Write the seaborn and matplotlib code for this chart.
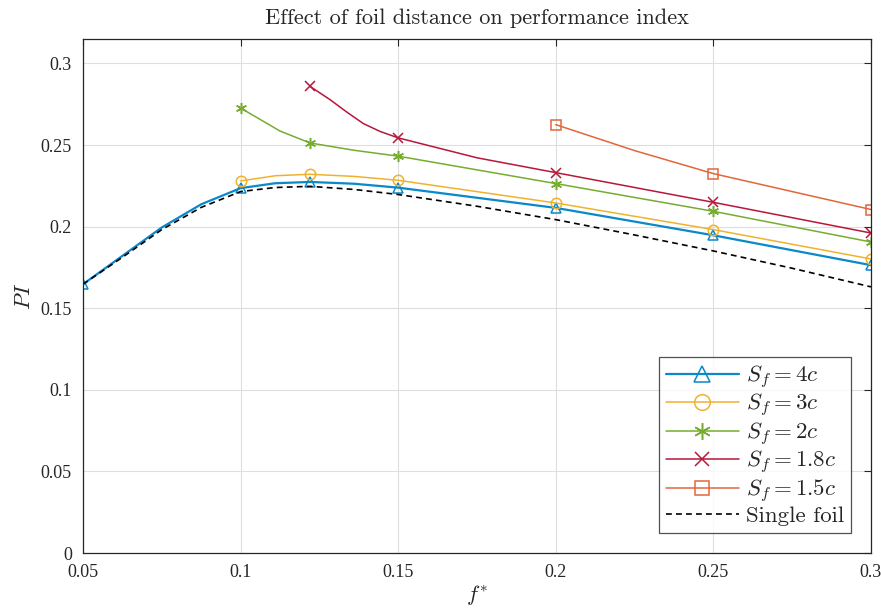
import numpy as np
import pandas as pd
import matplotlib
matplotlib.use("Agg")
import matplotlib.pyplot as plt
import seaborn as sns

# ---- data ----
marker_f = [0.05, 0.10, 0.122, 0.15, 0.20, 0.25, 0.30]

f_4c = [0.05, 0.0625, 0.075, 0.0875, 0.10, 0.111, 0.122, 0.136, 0.15, 0.20, 0.25, 0.30]
pi_4c = [0.1647, 0.1821, 0.1995, 0.2137, 0.2236, 0.2266, 0.2274, 0.2263, 0.2239, 0.2115, 0.1947, 0.1764]

f_3c = [0.10, 0.111, 0.122, 0.136, 0.15, 0.20, 0.25, 0.30]
pi_3c = [0.2280, 0.2312, 0.2321, 0.2308, 0.2284, 0.2145, 0.1982, 0.1802]

f_2c = [0.10, 0.1125, 0.122, 0.136, 0.15, 0.20, 0.25, 0.30]
pi_2c = [0.2727, 0.2586, 0.2513, 0.2468, 0.2432, 0.2264, 0.2094, 0.1906]

f_18c = [0.122, 0.1284, 0.1337, 0.139, 0.1442, 0.15, 0.175, 0.20, 0.25, 0.30]
pi_18c = [0.2860, 0.2778, 0.2702, 0.2631, 0.2584, 0.2544, 0.2422, 0.2331, 0.2149, 0.1961]

f_15c = [0.20, 0.225, 0.25, 0.30]
pi_15c = [0.2625, 0.2466, 0.2325, 0.2105]

f_single = [0.05, 0.0625, 0.075, 0.0875, 0.10, 0.111, 0.122, 0.136, 0.15, 0.175, 0.20, 0.225, 0.25, 0.275, 0.30]
pi_single = [0.1647, 0.1812, 0.1982, 0.2118, 0.2215, 0.2240, 0.2247, 0.2228, 0.2197, 0.2125, 0.2043, 0.1949, 0.1851, 0.1745, 0.1631]

labels = [r"$S_f = 4c$", r"$S_f = 3c$", r"$S_f = 2c$", r"$S_f = 1.8c$", r"$S_f = 1.5c$", "Single foil"]
x_ticks = [0.05, 0.10, 0.15, 0.20, 0.25, 0.30]
x_ticklabels = ["0.05", "0.1", "0.15", "0.2", "0.25", "0.3"]
y_ticks = [0, 0.05, 0.10, 0.15, 0.20, 0.25, 0.30]
y_ticklabels = ["0", "0.05", "0.1", "0.15", "0.2", "0.25", "0.3"]

# ---- style ----
sns.set_theme(style="white")
plt.rcParams["font.family"] = ["Liberation Serif", "DejaVu Serif"]
plt.rcParams["mathtext.fontset"] = "cm"

fig = plt.figure(figsize=(8.81, 6.08), dpi=100)
ax = fig.add_axes([83 / 881, 1 - 553 / 608, (871 - 83) / 881, (553 - 39) / 608])

series = [
    (f_4c, pi_4c, labels[0], "#0a88ca", "^", 7.5, 1.6),
    (f_3c, pi_3c, labels[1], "#f0b22e", "o", 7.5, 1.1),
    (f_2c, pi_2c, labels[2], "#77ac30", (6, 2, 0), 8, 1.1),
    (f_18c, pi_18c, labels[3], "#b8163a", "x", 6.5, 1.1),
    (f_15c, pi_15c, labels[4], "#e2663a", "s", 6.5, 1.1),
]

for fx, fy, lab, col, mk, ms, lw in series:
    df = pd.DataFrame({"f": fx, "PI": fy})
    mev = [i for i, v in enumerate(fx) if np.any(np.isclose(v, marker_f))]
    sns.lineplot(data=df, x="f", y="PI", ax=ax, color=col, lw=lw, label=lab,
                 marker=mk, markevery=mev, markersize=ms, markerfacecolor="none",
                 markeredgecolor=col, markeredgewidth=1.1)

df_s = pd.DataFrame({"f": f_single, "PI": pi_single})
sns.lineplot(data=df_s, x="f", y="PI", ax=ax, color="black", lw=1.2,
             linestyle=(0, (3.5, 2.5)), label=labels[5])

ax.set_xlim(0.05, 0.30)
ax.set_ylim(0, 0.315)
ax.set_xticks(x_ticks)
ax.set_xticklabels(x_ticklabels)
ax.set_yticks(y_ticks)
ax.set_yticklabels(y_ticklabels)
ax.tick_params(direction="in", length=5, width=0.8, top=True, right=True,
               labelsize=13, colors="#262626", pad=8)
ax.grid(True, color="#dedede", lw=0.8)
for s in ax.spines.values():
    s.set_color("#262626")
    s.set_linewidth(0.9)

ax.set_xlabel(r"$f^{*}$", fontsize=16, labelpad=2)
ax.set_ylabel(r"$PI$", fontsize=16, labelpad=4)
ax.set_title("Effect of foil distance on performance index", fontsize=16,
             family="cmr10", pad=11)

leg = ax.legend(loc="lower right", fontsize=16.5, handlelength=3.2,
                frameon=True, fancybox=False, edgecolor="#262626",
                borderaxespad=0.87, labelspacing=0.06, markerscale=1.5,
                handletextpad=0.3, borderpad=0.3)
leg.get_frame().set_linewidth(0.9)
for t in leg.get_texts():
    if t.get_text() == "Single foil":
        t.set_family("cmr10")

fig.savefig("out.png", dpi=100)
